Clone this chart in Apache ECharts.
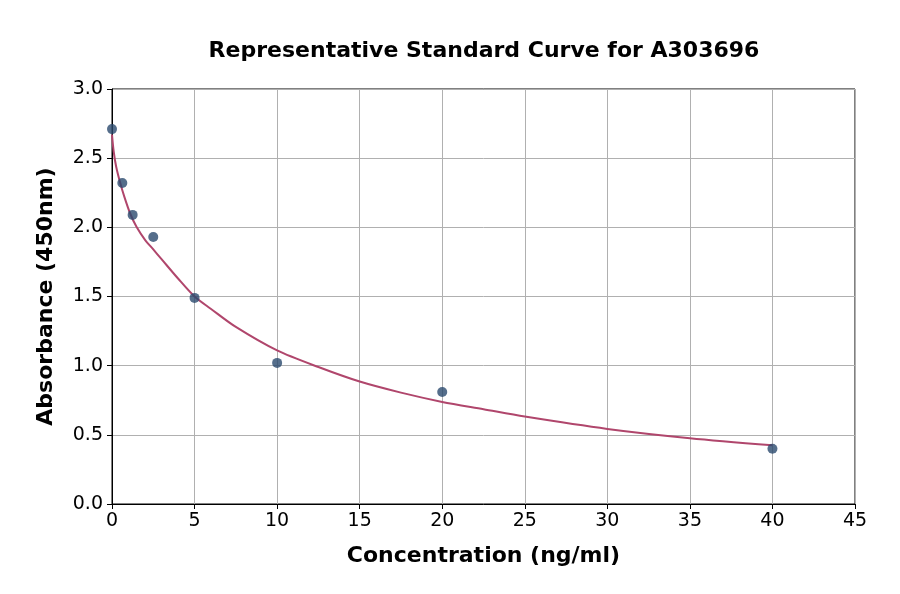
<!DOCTYPE html>
<html>
<head>
<meta charset="utf-8">
<script src="https://cdn.jsdelivr.net/npm/echarts@6/dist/echarts.min.js"></script>
<style>html,body{margin:0;padding:0;background:#fff}#c{width:900px;height:594px}</style>
</head>
<body>
<div id="c"></div>
<script>
const titleText = 'Representative Standard Curve for A303696';
const xName = 'Concentration (ng/ml)';
const yName = 'Absorbance (450nm)';
const pointX = [0, 0.625, 1.25, 2.5, 5, 10, 20, 40];
const pointY = [2.71, 2.32, 2.09, 1.93, 1.49, 1.02, 0.81, 0.40];
const curveX = [0, 0.1, 0.25, 0.5, 0.75, 1.1, 1.5, 2, 2.5, 3, 4, 5, 6, 7.5, 10, 12.5, 15, 17.5, 20, 22.5, 25, 30, 35, 40];
const curveY = [2.67, 2.55, 2.44, 2.32, 2.22, 2.10, 2.0, 1.91, 1.84, 1.77, 1.63, 1.50, 1.41, 1.28, 1.11, 0.99, 0.885, 0.805, 0.738, 0.685, 0.632, 0.543, 0.476, 0.425];

const chart = echarts.init(document.getElementById('c'));
const font = 'DejaVu Sans';
chart.setOption({
  backgroundColor: '#fff',
  animation: false,
  title: {
    text: titleText, left: 479, top: 35, textAlign: 'center',
    textStyle: {fontFamily: font, fontSize: 22, fontWeight: 'bold', color: '#000'}
  },
  grid: {left: 112, right: 45, top: 89, bottom: 90, show: true, borderColor: '#000', borderWidth: 1},
  xAxis: {
    type: 'value', min: 0, max: 45, interval: 5,
    name: xName, nameLocation: 'middle', nameGap: 41,
    nameTextStyle: {fontFamily: font, fontSize: 22, fontWeight: 'bold', color: '#000'},
    axisLine: {show: true, lineStyle: {color: '#000', width: 1}},
    axisTick: {show: true, length: 5, lineStyle: {color: '#000'}},
    axisLabel: {fontFamily: font, fontSize: 19, color: '#000', margin: 8},
    splitLine: {show: true, lineStyle: {color: '#b0b0b0', width: 1}}
  },
  yAxis: {
    type: 'value', min: 0, max: 3, interval: 0.5,
    name: yName, nameLocation: 'middle', nameGap: 55,
    nameTextStyle: {fontFamily: font, fontSize: 22, fontWeight: 'bold', color: '#000'},
    axisLine: {show: true, lineStyle: {color: '#000', width: 1}},
    axisTick: {show: true, length: 5, lineStyle: {color: '#000'}},
    axisLabel: {fontFamily: font, fontSize: 19, color: '#000', margin: 9, formatter: v => v.toFixed(1)},
    splitLine: {show: true, lineStyle: {color: '#b0b0b0', width: 1}}
  },
  series: [
    {
      type: 'line', data: curveX.map((x, i) => [x, curveY[i]]),
      smooth: 0.3, showSymbol: false, symbol: 'none',
      lineStyle: {color: '#b0466c', width: 2}, z: 2
    },
    {
      type: 'scatter', data: pointX.map((x, i) => [x, pointY[i]]),
      symbolSize: 10, itemStyle: {color: '#2a4a6e'}, z: 3
    }
  ]
});
</script>
</body>
</html>
